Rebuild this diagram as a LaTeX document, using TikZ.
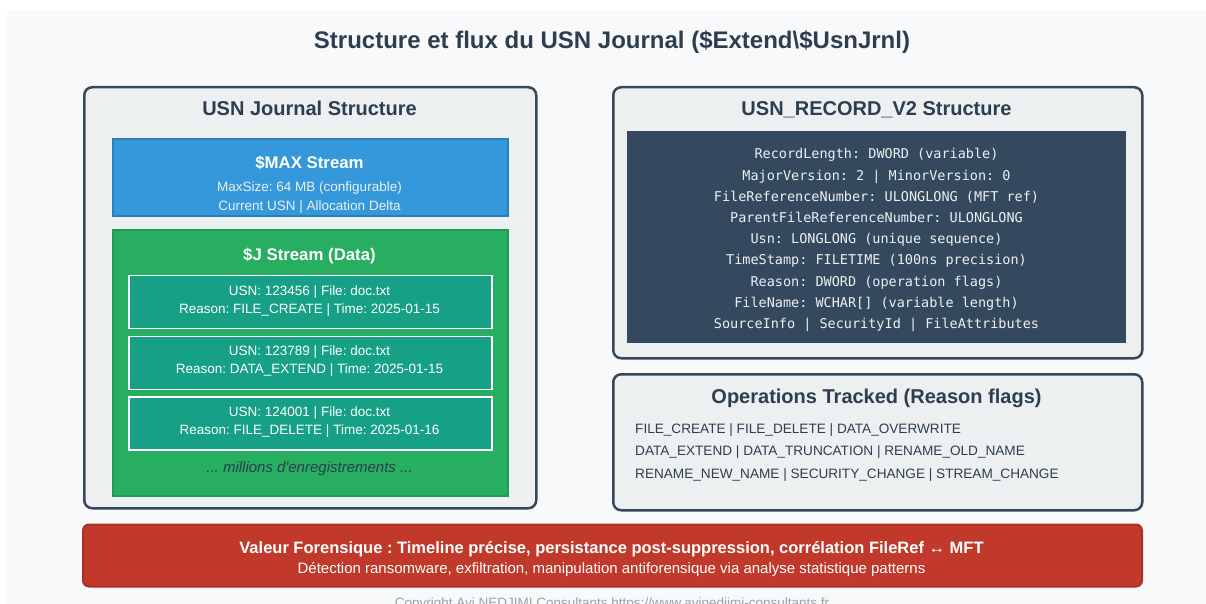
\documentclass[tikz,border=0pt]{standalone}
\usepackage{fontspec}
\setmainfont{Liberation Sans}
\newfontfamily\codefont{DejaVu Sans Mono}
\frenchspacing

\definecolor{ink}{HTML}{2C3E50}
\definecolor{slate}{HTML}{34495E}
\definecolor{panelbg}{HTML}{ECF0F1}
\definecolor{pagebg}{HTML}{F8F9FA}
\definecolor{maxblue}{HTML}{3498DB}
\definecolor{maxedge}{HTML}{2980B9}
\definecolor{jgreen}{HTML}{27AE60}
\definecolor{jedge}{HTML}{229954}
\definecolor{recfill}{HTML}{16A085}
\definecolor{alert}{HTML}{C0392B}
\definecolor{alertedge}{HTML}{A93226}
\definecolor{muted}{HTML}{95A5A6}

\newcommand\fsz[1]{\fontsize{#1}{#1}\selectfont}

\tikzset{
  blk/.style n args={2}{rectangle, anchor=north west, inner sep=0pt,
    minimum width=#1, minimum height=#2},
  panel/.style={draw=slate, line width=2.5pt, fill=panelbg, rounded corners=8pt},
  maxbox/.style={draw=maxedge, line width=2pt, fill=maxblue},
  jbox/.style={draw=jedge, line width=2pt, fill=jgreen},
  recbox/.style={draw=white, line width=1.5pt, fill=recfill},
  codebox/.style={fill=slate},
  alertbox/.style={draw=alertedge, line width=2pt, fill=alert, rounded corners=6pt},
  txt/.style={anchor=base, inner sep=0pt},
  heading/.style={txt, text=ink, font=\bfseries\fsz{20}},
  boxhead/.style={txt, text=white, font=\bfseries\fsz{16.8}},
  small/.style={txt, text=white, font=\fsz{13.5}},
  code/.style={txt, text=panelbg, font=\codefont\fsz{13.5}},
  flag/.style={txt, anchor=base west, text=ink, font=\fsz{13.6}},
}

\begin{document}
\begin{tikzpicture}[x=1pt, y=-1pt]
\useasboundingbox (0,0) rectangle (1206,604);
\fill[pagebg] (7,10) rectangle (1206,604);

% page title
\node[txt, text=ink, font=\bfseries\fsz{24}] (title) at (612,48.5)
  {Structure et flux du USN Journal (\$Extend\textbackslash\$UsnJrnl)};

% ---- left panel: journal streams
\node[blk={452pt}{421pt}, panel] (journal) at (83,86) {};
\node[heading] (journalT) at (309.5,116) {USN Journal Structure};

\node[blk={395pt}{77pt}, maxbox] (max) at (112,138) {};
\node[boxhead] (maxT) at (309.5,169) {\$MAX Stream};
\node[small, text=panelbg] (maxA) at (309.5,191.8) {MaxSize: 64 MB (configurable)};
\node[small, text=panelbg] (maxB) at (309.5,210.3) {Current USN | Allocation Delta};

\node[blk={395pt}{266pt}, jbox] (jstream) at (112,229) {};
\node[boxhead] (jT) at (309.5,260.5) {\$J Stream (Data)};

\node[blk={363pt}{53pt}, recbox] (rec1) at (128,274.5) {};
\node[small] (rec1a) at (309.5,295.3) {USN: 123456 | File: doc.txt};
\node[small] (rec1b) at (309.5,313.3) {Reason: FILE\_CREATE | Time: 2025-01-15};

\node[blk={363pt}{53pt}, recbox] (rec2) at (128,335.5) {};
\node[small] (rec2a) at (309.5,355.3) {USN: 123789 | File: doc.txt};
\node[small] (rec2b) at (309.5,373.3) {Reason: DATA\_EXTEND | Time: 2025-01-15};

\node[blk={363pt}{53pt}, recbox] (rec3) at (128,396) {};
\node[small] (rec3a) at (309.5,416.3) {USN: 124001 | File: doc.txt};
\node[small] (rec3b) at (309.5,434.3) {Reason: FILE\_DELETE | Time: 2025-01-16};

\node[txt, text=ink, font=\itshape\fsz{15}] (more) at (309.5,472.5)
  {... millions d\textquotesingle enregistrements ...};

% ---- right top panel: record layout
\node[blk={529pt}{271pt}, panel] (record) at (612,86) {};
\node[heading] (recordT) at (876.5,116) {USN\_RECORD\_V2 Structure};
\node[blk={499pt}{212pt}, codebox] (fields) at (627,131) {};
\node[code] (f1) at (876.5,158.5) {RecordLength: DWORD (variable)};
\node[code] (f2) at (876.5,180.5) {MajorVersion: 2 | MinorVersion: 0};
\node[code] (f3) at (876.5,201.5) {FileReferenceNumber: ULONGLONG (MFT ref)};
\node[code] (f4) at (876.5,222.5) {ParentFileReferenceNumber: ULONGLONG};
\node[code] (f5) at (876.5,243.5) {Usn: LONGLONG (unique sequence)};
\node[code] (f6) at (876.5,264.5) {TimeStamp: FILETIME (100ns precision)};
\node[code] (f7) at (876.5,286.5) {Reason: DWORD (operation flags)};
\node[code] (f8) at (876.5,307.5) {FileName: WCHAR[] (variable length)};
\node[code] (f9) at (876.5,328.5) {SourceInfo | SecurityId | FileAttributes};

% ---- right bottom panel: reason flags
\node[blk={529pt}{136pt}, panel] (ops) at (612,373) {};
\node[heading] (opsT) at (876.5,403) {Operations Tracked (Reason flags)};
\node[flag] (op1) at (635,433.8) {FILE\_CREATE | FILE\_DELETE | DATA\_OVERWRITE};
\node[flag] (op2) at (635,455.8) {DATA\_EXTEND | DATA\_TRUNCATION | RENAME\_OLD\_NAME};
\node[flag] (op3) at (635,478.8) {RENAME\_NEW\_NAME | SECURITY\_CHANGE | STREAM\_CHANGE};

% ---- forensic value banner
\node[blk={1059pt}{62pt}, alertbox] (value) at (82,523.5) {};
\node[txt, text=white, font=\bfseries\fsz{16.5}] (valueA) at (611.5,553)
  {Valeur Forensique : Timeline précise, persistance post-suppression, corrélation FileRef ↔ MFT};
\node[txt, text=white, font=\fsz{15}] (valueB) at (611.5,573.5)
  {Détection ransomware, exfiltration, manipulation antiforensique via analyse statistique patterns};

% footer
\node[txt, text=muted, font=\fsz{13.5}] (copy) at (612,607.5)
  {Copyright Ayi NEDJIMI Consultants https://www.ayinedjimi-consultants.fr};
\end{tikzpicture}
\end{document}
